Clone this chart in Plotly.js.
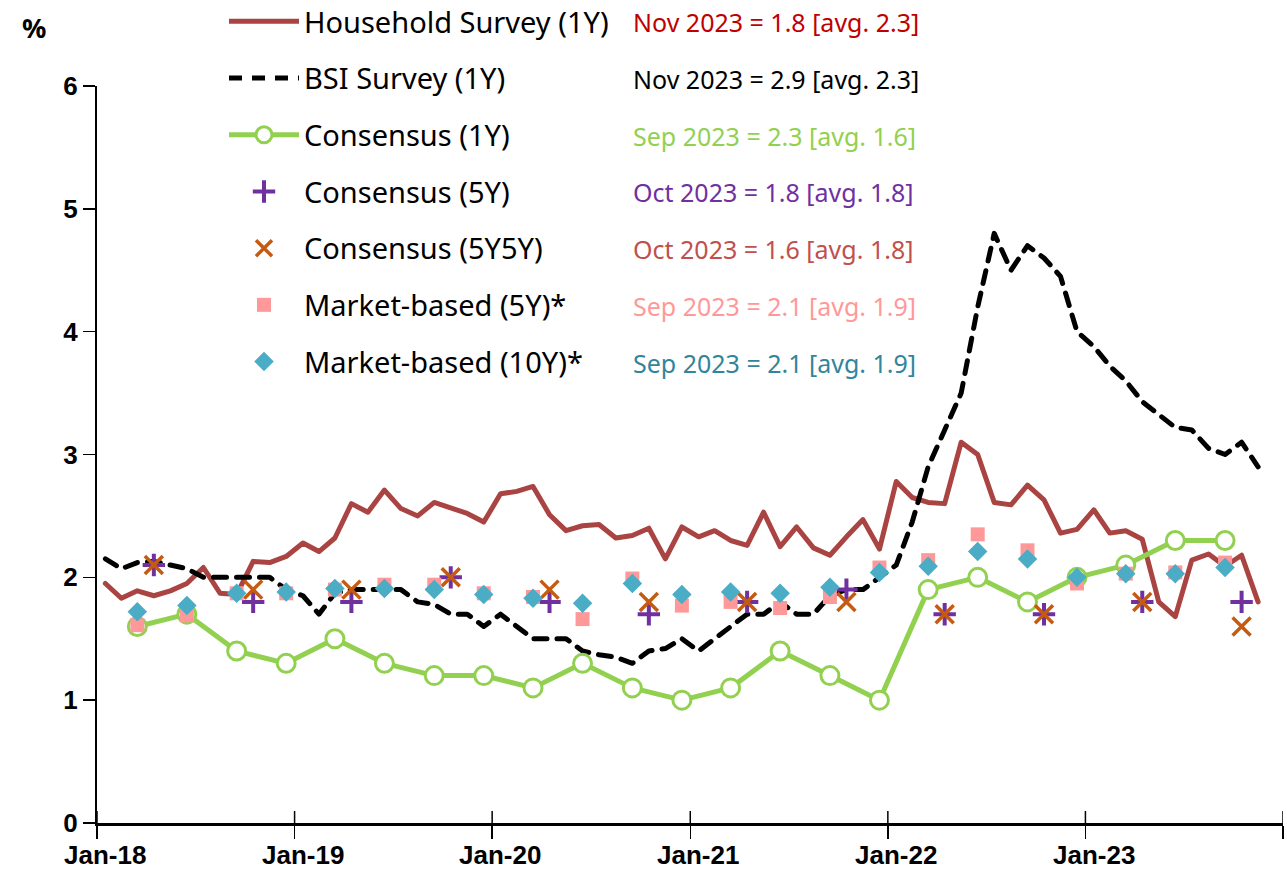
<!DOCTYPE html>
<html><head><meta charset="utf-8">
<script src="https://cdn.plot.ly/plotly-3.0.1.min.js"></script>
<style>html,body{margin:0;padding:0;background:#fff}#chart{width:1287px;height:888px}
.scatterlayer .js-line{stroke-linecap:round;stroke-linejoin:round}</style>
</head><body><div id="chart"></div>
<script>
// ---------- data ----------
const startYear = 2018;
const monthCount = 71; // Jan-2018 .. Nov-2023

const householdSurvey1Y = [1.95,1.83,1.89,1.85,1.89,1.95,2.08,1.87,1.86,2.13,2.12,2.17,
  2.28,2.21,2.32,2.60,2.53,2.71,2.56,2.50,2.61,2.57,2.52,2.45,
  2.68,2.70,2.74,2.51,2.38,2.42,2.43,2.32,2.34,2.40,2.15,2.41,
  2.33,2.38,2.30,2.26,2.53,2.25,2.41,2.24,2.18,2.33,2.47,2.23,
  2.78,2.65,2.61,2.60,3.10,3.00,2.61,2.59,2.75,2.63,2.36,2.39,
  2.55,2.36,2.38,2.31,1.80,1.68,2.14,2.19,2.09,2.18,1.80];

const bsiSurvey1Y = [2.15,2.07,2.12,2.13,2.10,2.07,2.00,2.00,2.00,2.00,2.00,1.90,
  1.85,1.70,1.87,1.90,1.90,1.90,1.90,1.80,1.78,1.70,1.70,1.60,
  1.70,1.60,1.50,1.50,1.50,1.40,1.37,1.35,1.30,1.40,1.42,1.50,
  1.40,1.50,1.60,1.70,1.70,1.80,1.70,1.70,1.85,1.90,1.90,2.00,
  2.10,2.45,2.90,3.20,3.50,4.20,4.80,4.50,4.70,4.60,4.45,4.00,
  3.88,3.72,3.60,3.43,3.33,3.22,3.20,3.05,3.00,3.10,2.90];

const quarterMonths = ['2018-03','2018-06','2018-09','2018-12','2019-03','2019-06','2019-09','2019-12',
  '2020-03','2020-06','2020-09','2020-12','2021-03','2021-06','2021-09','2021-12',
  '2022-03','2022-06','2022-09','2022-12','2023-03','2023-06','2023-09'];
const consensus1Y = [1.6,1.7,1.4,1.3,1.5,1.3,1.2,1.2,1.1,1.3,1.1,1.0,1.1,1.4,1.2,1.0,1.9,2.0,1.8,2.0,2.1,2.3,2.3];
const marketBased5Y = [1.61,1.69,1.87,1.87,1.90,1.94,1.94,1.87,1.84,1.66,1.99,1.77,1.80,1.75,1.84,2.08,2.14,2.35,2.22,1.95,2.03,2.04,2.12];
const marketBased10Y = [1.72,1.77,1.87,1.88,1.91,1.91,1.90,1.86,1.83,1.79,1.95,1.86,1.88,1.87,1.92,2.04,2.09,2.21,2.15,2.00,2.03,2.03,2.08];

const halfYearMonths = ['2018-04','2018-10','2019-04','2019-10','2020-04','2020-10',
  '2021-04','2021-10','2022-04','2022-10','2023-04','2023-10'];
const consensus5Y = [2.1,1.8,1.8,2.0,1.8,1.7,1.8,1.9,1.7,1.7,1.8,1.8];
const consensus5Y5Y = [2.1,1.9,1.9,2.0,1.9,1.8,1.8,1.8,1.7,1.7,1.8,1.6];

const seriesNames = ['Household Survey (1Y)','BSI Survey (1Y)','Consensus (1Y)','Consensus (5Y)',
  'Consensus (5Y5Y)','Market-based (5Y)*','Market-based (10Y)*'];
const latestNotes = ['Nov 2023 = 1.8 [avg. 2.3]','Nov 2023 = 2.9 [avg. 2.3]','Sep 2023 = 2.3 [avg. 1.6]',
  'Oct 2023 = 1.8 [avg. 1.8]','Oct 2023 = 1.6 [avg. 1.8]','Sep 2023 = 2.1 [avg. 1.9]','Sep 2023 = 2.1 [avg. 1.9]'];
const tickVals = ['2018-01-01','2019-01-01','2020-01-01','2021-01-01','2022-01-01','2023-01-01','2024-01-01'];
const labelVals = ['2018-01-16','2019-01-16','2020-01-16','2021-01-16','2022-01-16','2023-01-16'];
const tickLabels = ['Jan-18','Jan-19','Jan-20','Jan-21','Jan-22','Jan-23'];
const yTicks = [0,1,2,3,4,5,6];

// ---------- build ----------
const months = [];
for (let i = 0; i < monthCount; i++) {
  const y = startYear + Math.floor(i / 12), m = (i % 12) + 1;
  months.push(y + '-' + String(m).padStart(2, '0'));
}
const FONT = 'Noto Sans, DejaVu Sans, sans-serif';
const TICKFONT = 'Liberation Sans, Arial, sans-serif';
const noteColors = ['#C00000','#000000','#92D050','#7030A0','#C0504D','#FF9999','#31859C'];
const per = {xperiod: 'M1', xperiodalignment: 'middle'};

const traces = [
  Object.assign({x: months, y: householdSurvey1Y, name: seriesNames[0], mode: 'lines',
    line: {color: '#A94442', width: 5}, legendgroup: 'a'}, per),
  Object.assign({x: months, y: bsiSurvey1Y, name: seriesNames[1], mode: 'lines',
    line: {color: '#000000', width: 5, dash: '13px,10px'}, legendgroup: 'b'}, per),
  Object.assign({x: quarterMonths, y: consensus1Y, name: seriesNames[2], mode: 'lines+markers',
    line: {color: '#92D050', width: 5},
    marker: {symbol: 'circle', size: 18, color: '#FFFFFF', line: {color: '#92D050', width: 3}}, legendgroup: 'c'}, per),
  Object.assign({x: halfYearMonths, y: consensus5Y, name: seriesNames[3], mode: 'markers',
    marker: {symbol: 'cross-thin', size: 16, line: {color: '#7030A0', width: 4}}, legendgroup: 'd'}, per),
  Object.assign({x: halfYearMonths, y: consensus5Y5Y, name: seriesNames[4], mode: 'markers',
    marker: {symbol: 'x-thin', size: 18, line: {color: '#C55A11', width: 3.5}}, legendgroup: 'e'}, per),
  Object.assign({x: quarterMonths, y: marketBased5Y, name: seriesNames[5], mode: 'markers',
    marker: {symbol: 'square', size: 14, color: '#FF9999'}, legendgroup: 'f'}, per),
  Object.assign({x: quarterMonths, y: marketBased10Y, name: seriesNames[6], mode: 'markers',
    marker: {symbol: 'diamond', size: 15, color: '#4BACC6'}, legendgroup: 'g'}, per)
];

const L = 97, R = 1283, T = 86, B = 823;
const px2x = p => (p - L) / (R - L);
const px2y = p => (B - p) / (B - T);
const rowY = [22, 79, 136, 192, 249, 306, 363];

const annotations = latestNotes.map((t, i) => ({
  text: t, xref: 'paper', yref: 'paper', x: px2x(631), y: px2y(rowY[i]),
  xanchor: 'left', yanchor: 'middle', showarrow: false,
  font: {family: FONT, size: 25, color: noteColors[i]}
}));
annotations.push({text: '%', xref: 'paper', yref: 'paper', x: px2x(34), y: px2y(27),
  xanchor: 'center', yanchor: 'middle', showarrow: false, font: {family: FONT, size: 27, color: '#000', weight: 'bold'}});
// x tick labels centred on the January month slot
tickLabels.forEach((t, i) => annotations.push({text: t, xref: 'x', yref: 'paper', x: labelVals[i], y: px2y(855),
  xanchor: 'center', yanchor: 'middle', showarrow: false, borderpad: 0,
  font: {family: TICKFONT, size: 26, color: '#000', weight: 'bold'}}));

// inner half of the crossing x ticks
const shapes = tickVals.map(v => ({type: 'line', xref: 'x', yref: 'paper', x0: v, x1: v, y0: 0, y1: px2y(811),
  line: {color: '#000', width: 1.5}}));

const tickStyle = {showgrid: false, zeroline: false, tickcolor: '#000', tickwidth: 1.5};
const layout = {
  width: 1287, height: 888,
  margin: {l: L, r: 1287 - R, t: T, b: 888 - B, autoexpand: false},
  paper_bgcolor: '#fff', plot_bgcolor: '#fff',
  font: {family: FONT, color: '#000'},
  showlegend: true,
  legend: {x: px2x(224), xanchor: 'left', y: px2y(-4), yanchor: 'top', bgcolor: 'rgba(0,0,0,0)',
    font: {family: FONT, size: 29, color: '#000'}, traceorder: 'grouped', tracegroupgap: 16, itemwidth: 70},
  xaxis: Object.assign({type: 'date', range: ['2018-01-01', '2024-01-01'], tickvals: tickVals,
    showticklabels: false, ticks: 'outside', ticklen: 13, showline: true, linecolor: '#000', linewidth: 3}, tickStyle),
  yaxis: Object.assign({range: [0, 6], tickvals: yTicks, ticks: 'outside', ticklen: 12,
    showline: true, linecolor: '#000', linewidth: 2,
    tickfont: {family: TICKFONT, size: 26, color: '#000', weight: 'bold'}}, tickStyle),
  annotations: annotations,
  shapes: shapes
};

Plotly.newPlot('chart', traces, layout, {displayModeBar: false, staticPlot: true});
</script></body></html>
